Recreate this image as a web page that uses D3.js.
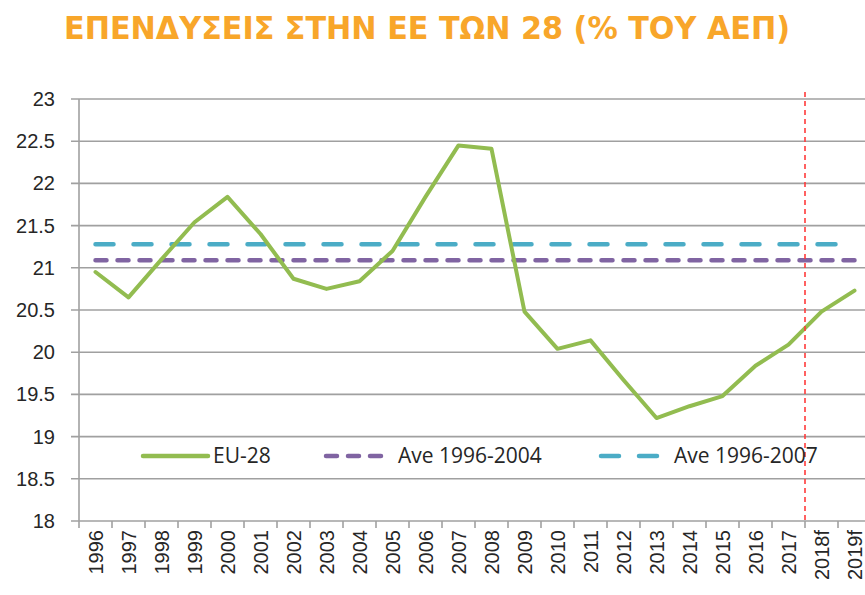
<!DOCTYPE html>
<html>
<head>
<meta charset="utf-8">
<script src="https://cdn.jsdelivr.net/npm/d3@7"></script>
<style>
  body { margin: 0; background: #fff; }
  svg { display: block; font-family: "Open Sans", "Noto Sans", sans-serif; }
</style>
</head>
<body>
<svg id="chart" width="865" height="595"></svg>
<script>
// Δεδομένα
const years = ["1996","1997","1998","1999","2000","2001","2002","2003","2004","2005","2006","2007",
  "2008","2009","2010","2011","2012","2013","2014","2015","2016","2017","2018f","2019f"];
const eu28 = [20.95,20.65,21.1,21.54,21.84,21.4,20.87,20.75,20.84,21.2,21.84,22.45,
  22.41,20.48,20.04,20.14,19.67,19.22,19.36,19.48,19.84,20.09,20.48,20.73];
const ave9604 = 21.09;
const ave9607 = 21.28;
const yTicks = [18,18.5,19,19.5,20,20.5,21,21.5,22,22.5,23];
const forecastFrom = "2018f";

const svg = d3.select("#chart");
const margin = { left: 79, right: -6, top: 99, bottom: 74 };
const width = 865 - margin.left - margin.right;
const height = 595 - margin.top - margin.bottom;

const x = d3.scaleBand().domain(years).range([margin.left, margin.left + width]);
const y = d3.scaleLinear().domain([18, 23]).range([margin.top + height, margin.top]);

// Τίτλος
svg.append("text")
  .attr("x", 427).attr("y", 39)
  .attr("text-anchor", "middle")
  .attr("textLength", 726)
  .attr("lengthAdjust", "spacingAndGlyphs")
  .style("font-family", "'DejaVu Sans Condensed', 'DejaVu Sans', sans-serif")
  .style("font-weight", "bold")
  .style("font-size", "32px")
  .style("fill", "#F8A62A")
  .text("ΕΠΕΝΔΥΣΕΙΣ ΣΤΗΝ ΕΕ ΤΩΝ 28 (% ΤΟΥ ΑΕΠ)");

// Γραμμές πλέγματος
svg.append("g")
  .selectAll("line")
  .data(yTicks)
  .enter().append("line")
  .attr("x1", margin.left - 8).attr("x2", margin.left + width)
  .attr("y1", d => y(d)).attr("y2", d => y(d))
  .style("stroke", "#a0a0a0")
  .style("stroke-width", 1.6);

// Άξονας Y
const yAxis = svg.append("g")
  .attr("transform", `translate(${margin.left - 8},0)`)
  .call(d3.axisLeft(y).tickValues(yTicks).tickSize(0).tickPadding(16).tickFormat(d3.format("")));
yAxis.select(".domain").remove();
yAxis.selectAll("text")
  .style("font-size", "20px")
  .style("fill", "#262626");

svg.append("line")
  .attr("x1", margin.left).attr("x2", margin.left)
  .attr("y1", margin.top).attr("y2", margin.top + height + 7)
  .style("stroke", "#a0a0a0").style("stroke-width", 1.6);

// Άξονας X
const xAxis = svg.append("g")
  .attr("transform", `translate(0,${margin.top + height})`)
  .call(d3.axisBottom(x).tickSize(0).tickPadding(0));
xAxis.select(".domain").remove();
xAxis.selectAll("text")
  .attr("transform", "rotate(-90)")
  .attr("x", -9).attr("y", 0).attr("dy", "0.35em")
  .style("text-anchor", "end")
  .style("font-size", "20px")
  .style("fill", "#262626");

svg.append("g")
  .selectAll("line")
  .data(years)
  .enter().append("line")
  .attr("x1", d => x(d) + x.bandwidth()).attr("x2", d => x(d) + x.bandwidth())
  .attr("y1", margin.top + height).attr("y2", margin.top + height + 7)
  .style("stroke", "#a0a0a0").style("stroke-width", 1.6);

const cx = d => x(d) + x.bandwidth() / 2;
const first = years[0], last = years[years.length - 1];

// Μέσοι όροι
svg.append("line")
  .attr("x1", cx(first)).attr("x2", cx(last))
  .attr("y1", y(ave9604)).attr("y2", y(ave9604))
  .style("stroke", "#8064A2").style("stroke-width", 4.5)
  .style("stroke-linecap", "round")
  .style("stroke-dasharray", "11,11");

svg.append("line")
  .attr("x1", cx(first)).attr("x2", cx(last))
  .attr("y1", y(ave9607)).attr("y2", y(ave9607))
  .style("stroke", "#4BACC6").style("stroke-width", 4.5)
  .style("stroke-linecap", "round")
  .style("stroke-dasharray", "18,20");

// Κύρια σειρά
const line = d3.line().x((d, i) => cx(years[i])).y(d => y(d));
svg.append("path")
  .datum(eu28)
  .attr("d", line)
  .style("fill", "none")
  .style("stroke", "#92BC50")
  .style("stroke-width", 4)
  .style("stroke-linejoin", "round")
  .style("stroke-linecap", "round");

// Κάθετη γραμμή πρόβλεψης
svg.append("line")
  .attr("x1", x(forecastFrom)).attr("x2", x(forecastFrom))
  .attr("y1", 92).attr("y2", margin.top + height)
  .style("stroke", "#FF3B3B").style("stroke-width", 1.6)
  .style("stroke-dasharray", "5,4");

// Υπόμνημα
const legend = [
  { label: "EU-28", color: "#92BC50", dash: null, x0: 143, x1: 208 },
  { label: "Ave 1996-2004", color: "#8064A2", dash: "11,11", x0: 326, x1: 383 },
  { label: "Ave 1996-2007", color: "#4BACC6", dash: "18,20", x0: 601, x1: 659 }
];
const ly = 456;
const lg = svg.append("g");
legend.forEach(d => {
  lg.append("line")
    .attr("x1", d.x0).attr("x2", d.x1)
    .attr("y1", ly).attr("y2", ly)
    .style("stroke", d.color).style("stroke-width", 4.5)
    .style("stroke-linecap", "round")
    .style("stroke-dasharray", d.dash);
  lg.append("text")
    .attr("x", d.x1 + (d.dash ? 15 : 5)).attr("y", ly).attr("dy", "0.35em")
    .style("font-size", "21px")
    .style("fill", "#262626")
    .text(d.label);
});
</script>
</body>
</html>
